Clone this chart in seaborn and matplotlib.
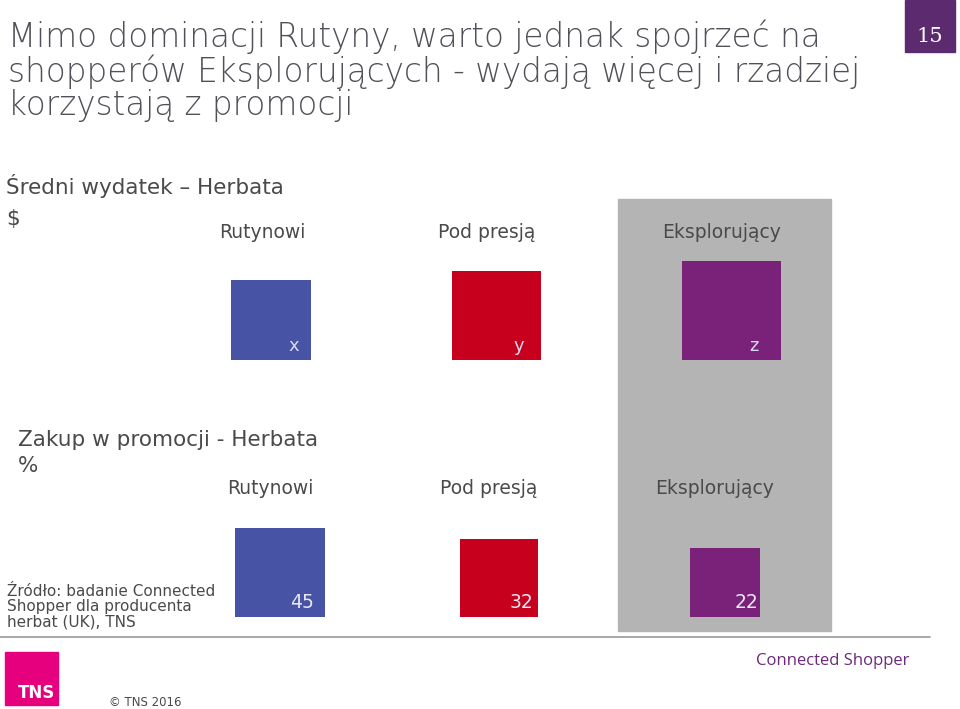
import matplotlib
matplotlib.use("Agg")
import matplotlib.pyplot as plt
import seaborn as sns
from matplotlib.patches import Rectangle

sns.set_theme(style="white", font="DejaVu Sans")

# data
segments = ["Rutynowi", "Pod presją", "Eksplorujący"]
spend_labels = ["x", "y", "z"]
spend_index = [80, 89, 99]          # relative size of spend squares (values hidden)
promo_share = [45, 32, 22]          # % bought on promotion
seg_colors = ["#4753A4", "#C7001D", "#7A2179"]

title = ("Mimo dominacji Rutyny, warto jednak spojrzeć na\n"
         "shopperów Eksplorujących - wydają więcej i rzadziej\n"
         "korzystają z promocji")

TXT = "#4a4a4a"

fig = plt.figure(figsize=(9.6, 7.09), dpi=100)
ax = fig.add_axes([0, 0, 1, 1])
ax.set_xlim(0, 960)
ax.set_ylim(709, 0)
ax.axis("off")

# highlighted column
ax.add_patch(Rectangle((618, 199), 213, 432, color="#B4B4B4", zorder=0))

ax.text(8, 20, title, fontsize=23.5, color="#505058", va="top", linespacing=1.0,
        weight="light")
ax.add_patch(Rectangle((905, 0), 50, 52, color="#5C2A6E"))
ax.text(930, 37, "15", fontsize=15, color="white", ha="center", va="center",
        family="DejaVu Serif")

# panel 1: average spend
ax.text(6, 186, "Średni wydatek – Herbata", fontsize=15.5, color=TXT, va="center")
ax.text(6, 219, "$", fontsize=15.5, color=TXT, va="center")
centers_top = [271, 496, 731]
for cx, name, lab, s, c in zip(centers_top, segments, spend_labels, spend_index, seg_colors):
    ax.bar(cx, -s, width=s, bottom=360, color=c, align="center", linewidth=0)
    ax.text(cx - 9, 233, name, fontsize=13.5, color=TXT, ha="center", va="center")
    ax.text(cx + 23, 346, lab, fontsize=13, color="#D8D8F0", ha="center", va="center")

# panel 2: promotion share
ax.text(18, 440, "Zakup w promocji - Herbata", fontsize=15.5, color=TXT, va="center")
ax.text(18, 466, "%", fontsize=15.5, color=TXT, va="center")
centers_bot = [280, 499, 725]
for cx, name, v, c in zip(centers_bot, segments, promo_share, seg_colors):
    side = 50 + 0.87 * v
    ax.bar(cx, -side, width=side, bottom=617, color=c, align="center", linewidth=0)
    ax.text(cx - 10, 489, name, fontsize=13.5, color=TXT, ha="center", va="center")
    ax.text(cx + 22, 602, str(v), fontsize=13.5, color="#E8E8F4",
            ha="center", va="center")

ax.text(7, 607, "Źródło: badanie Connected\nShopper dla producenta\nherbat (UK), TNS",
        fontsize=11, color=TXT, va="center", linespacing=1.0)

ax.plot([0, 930], [637, 637], color="#999999", lw=1.2)

# footer
ax.add_patch(Rectangle((5, 652), 53, 53, color="#E6007E"))
ax.text(36, 693, "TNS", fontsize=12, color="white", ha="center", va="center",
        weight="bold")
ax.text(145, 702, "© TNS 2016", fontsize=8.5, color=TXT, ha="center", va="center")
ax.text(833, 661, "Connected Shopper", fontsize=12, color="#6B2A7A", ha="center",
        va="center", family="Open Sans")

fig.savefig("out.png", dpi=100)
